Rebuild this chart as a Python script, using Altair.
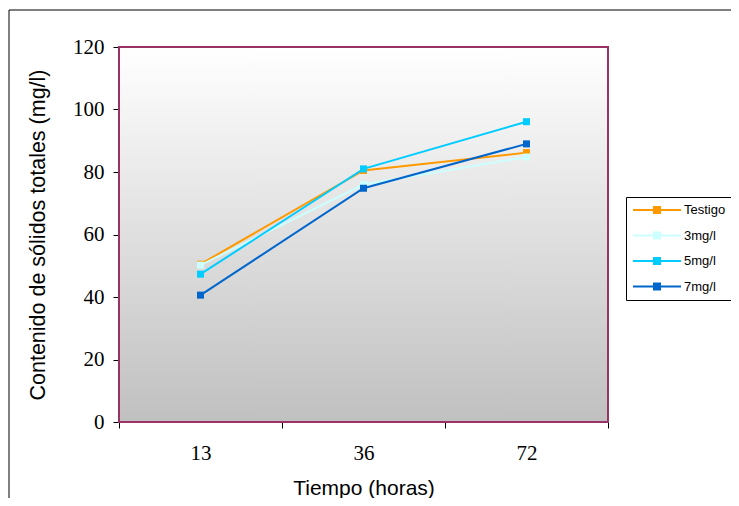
import altair as alt
import pandas as pd

# ---- data ----
tiempos = ["13", "36", "72"]
series = ["Testigo", "3mg/l", "5mg/l", "7mg/l"]
testigo = [50.5, 80.5, 86.2]
mg3 = [50.2, 76.0, 84.8]
mg5 = [47.3, 81.0, 96.1]
mg7 = [40.6, 74.8, 89.0]
colores = ["#FF9900", "#CCFFFF", "#00CCFF", "#0066CC"]
y_ticks = [0, 20, 40, 60, 80, 100, 120]

rows = []
for name, vals in zip(series, [testigo, mg3, mg5, mg7]):
    for t, v in zip(tiempos, vals):
        rows.append({"Tiempo": t, "Serie": name, "Valor": v})
df = pd.DataFrame(rows)

W, H = 489, 375

x_enc = alt.X("Tiempo:O", sort=tiempos, bandPosition=0.5,
              scale=alt.Scale(type="band", paddingInner=0, paddingOuter=0),
              axis=alt.Axis(title="Tiempo (horas)", labelAngle=0, tickBand="extent",
                            titleFont="Liberation Sans", titleFontSize=21,
                            titleFontWeight="normal", titleColor="black",
                            labelFont="Liberation Serif", labelFontSize=21,
                            labelColor="black", labelPadding=14, tickSize=6,
                            domainColor="black", tickColor="black", grid=False,
                            titleBaseline="middle", titleY=66))
y_enc = alt.Y("Valor:Q", scale=alt.Scale(domain=[0, 120], nice=False),
              axis=alt.Axis(title="Contenido de sólidos totales (mg/l)", values=y_ticks,
                            titleFont="Liberation Sans", titleFontSize=21.5,
                            titleFontWeight="normal", titleColor="black",
                            labelFont="Liberation Serif", labelFontSize=21,
                            labelColor="black", labelPadding=9, tickSize=6,
                            domainColor="black", tickColor="black", grid=False,
                            titleBaseline="middle", titleX=-81))

base = alt.Chart(df)
one = pd.DataFrame({"a": [0]})

gradient = {"gradient": "linear", "x1": 0, "y1": 0, "x2": 0, "y2": 1,
            "stops": [{"offset": 0, "color": "#ffffff"},
                      {"offset": 1, "color": "#c0c0c0"}]}

bg = alt.Chart(one).mark_rect().encode(
    x=alt.value(0), x2=alt.value("width"), y=alt.value(0), y2=alt.value("height"),
    color=alt.value(gradient))

border = alt.Chart(one).mark_rect(fillOpacity=0, stroke="#993366", strokeWidth=2).encode(
    x=alt.value(0), x2=alt.value("width"), y=alt.value(0), y2=alt.value("height"))

frame = alt.Chart(one).mark_rect(
    fillOpacity=0, stroke="black", strokeWidth=1, clip=False).encode(
    x=alt.value(-110), x2=alt.value(W + 300), y=alt.value(-37), y2=alt.value(H + 300))

# stroke scale uses a data-derived (sorted) domain so its hidden legend
# is not merged with the visible colour legend of the points
lines = base.mark_line(strokeWidth=2).encode(
    x=x_enc, y=y_enc,
    stroke=alt.Stroke("Serie:N", sort=series, scale=alt.Scale(range=colores), legend=None),
    detail="Serie:N")

# legend symbol: a 48px line with an 8px square (path scaled by sqrt(size)/2 = 6)
legend_path = "M-4,-0.17H4V0.17H-4Z M-0.67,-0.67H0.67V0.67H-0.67Z"

points = base.mark_point(filled=True, shape="square", size=49, opacity=1).encode(
    x=x_enc, y=y_enc,
    color=alt.Color("Serie:N", scale=alt.Scale(domain=series, range=colores),
                    legend=alt.Legend(title=None, orient="none", legendX=507, legendY=150,
                                      strokeColor="black", fillColor="white", padding=6,
                                      symbolType=legend_path, symbolSize=144,
                                      symbolOffset=18,
                                      labelFont="Liberation Sans", labelFontSize=13,
                                      labelColor="black", labelOffset=20, rowPadding=11.5)))

chart = alt.layer(bg, border, lines, points, frame).properties(
    width=W, height=H,
    autosize=alt.AutoSizeParams(type="none"),
    padding={"left": 111, "top": 39, "right": 123, "bottom": 76},
).configure_view(stroke=None).configure(background="white")

chart.save("out.html", embed_options={"renderer": "svg", "actions": False})
